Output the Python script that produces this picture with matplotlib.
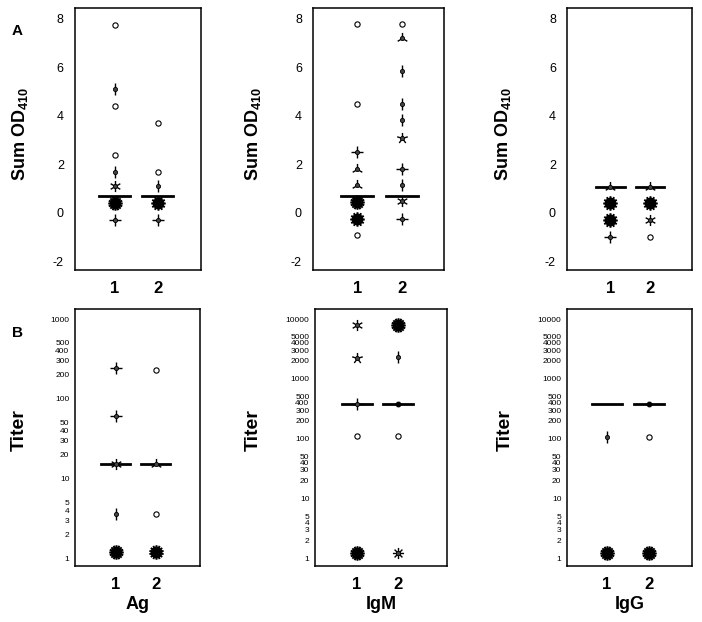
import numpy as np
import matplotlib
matplotlib.use("Agg")
import matplotlib.pyplot as plt
from matplotlib.path import Path

plt.rcParams["font.family"] = ["Liberation Sans", "DejaVu Sans"]
plt.rcParams["mathtext.fontset"] = "custom"
plt.rcParams["mathtext.rm"] = "Liberation Sans"
plt.rcParams["mathtext.bf"] = "Liberation Sans:bold"
plt.rcParams["mathtext.default"] = "bf"

groups = [1, 2]
panel_names = ["Ag", "IgM", "IgG"]

# sunflower data: values and number of observations at each value
# (1 = open circle, 0 = plain dot sitting on the median line)
ag_od_y1 = [7.75, 5.1, 4.4, 2.4, 1.7, 1.1, 0.4, -0.3]
ag_od_n1 = [1, 2, 1, 1, 2, 6, 16, 4]
ag_od_y2 = [3.7, 1.7, 1.1, 0.4, -0.3]
ag_od_n2 = [1, 1, 2, 12, 4]
igm_od_y1 = [7.8, 4.5, 2.5, 1.8, 1.15, 0.45, -0.25, -0.9]
igm_od_n1 = [1, 1, 4, 3, 3, 16, 12, 1]
igm_od_y2 = [7.8, 7.2, 5.85, 4.5, 3.85, 3.1, 1.8, 1.15, 0.5, -0.25]
igm_od_n2 = [1, 3, 2, 2, 2, 5, 4, 2, 6, 4]
igg_od_y1 = [1.05, 0.4, -0.3, -1.0]
igg_od_n1 = [3, 12, 12, 4]
igg_od_y2 = [1.05, 0.4, -0.3, -1.0]
igg_od_n2 = [3, 12, 6, 1]
od_medians = [0.7, 0.7, 1.05]

ag_ti_y1 = [240, 60, 15, 3.6, 1.2]
ag_ti_n1 = [4, 4, 6, 2, 16]
ag_ti_y2 = [230, 15, 3.6, 1.2]
ag_ti_n2 = [1, 3, 1, 14]
igm_ti_y1 = [8000, 2250, 375, 110, 1.2]
igm_ti_n1 = [6, 5, 4, 1, 16]
igm_ti_y2 = [8000, 2300, 375, 110, 1.2]
igm_ti_n2 = [16, 2, 0, 1, 8]
igg_ti_y1 = [105, 1.2]
igg_ti_n1 = [2, 16]
igg_ti_y2 = [375, 105, 1.2]
igg_ti_n2 = [0, 1, 16]
ti_medians = [15, 375, 375]

od_ticks = [-2, 0, 2, 4, 6, 8]
ti_ticks_ag = [1, 2, 3, 4, 5, 10, 20, 30, 40, 50, 100, 200, 300, 400, 500, 1000]
ti_ticks_ig = ti_ticks_ag + [2000, 3000, 4000, 5000, 10000]

od_data = [
    [(ag_od_y1, ag_od_n1), (ag_od_y2, ag_od_n2)],
    [(igm_od_y1, igm_od_n1), (igm_od_y2, igm_od_n2)],
    [(igg_od_y1, igg_od_n1), (igg_od_y2, igg_od_n2)],
]
ti_data = [
    [(ag_ti_y1, ag_ti_n1), (ag_ti_y2, ag_ti_n2)],
    [(igm_ti_y1, igm_ti_n1), (igm_ti_y2, igm_ti_n2)],
    [(igg_ti_y1, igg_ti_n1), (igg_ti_y2, igg_ti_n2)],
]


def petals(n):
    verts, codes = [], []
    for k in range(n):
        a = np.deg2rad(90 + 360.0 * k / n)
        verts += [(0, 0), (np.cos(a), np.sin(a))]
        codes += [Path.MOVETO, Path.LINETO]
    return Path(verts, codes)


def sunflower(ax, x, ys, ns):
    for y, n in zip(ys, ns):
        if n == 0:
            ax.plot(x, y, "o", ms=3.2, color="black", zorder=4)
        elif n == 1:
            ax.plot(x, y, "o", ms=3.8, mfc="white", mec="black", mew=0.8, zorder=4)
        elif n < 10:
            ax.plot(x, y, marker=petals(n), ms=8, mfc="none", mec="black", mew=1.0, ls="none", zorder=4)
            ax.plot(x, y, "o", ms=3.0, mfc="#444444", mec="black", mew=0.6, zorder=5)
        else:
            ax.plot(x, y, marker=petals(n), ms=10.5, mfc="none", mec="black", mew=1.4, ls="none", zorder=4)
            ax.plot(x, y, "o", ms=7.5, color="black", zorder=5)


fig = plt.figure(figsize=(7.02, 6.22), dpi=100)

top_pos = [[0.1068, 0.5659, 0.1795, 0.4212], [0.4459, 0.5659, 0.1866, 0.4212], [0.8077, 0.5659, 0.1781, 0.4212]]
bot_pos = [[0.1068, 0.0900, 0.1781, 0.4132], [0.4487, 0.0900, 0.1880, 0.4132], [0.8077, 0.0900, 0.1780, 0.4132]]
top_xlim = [(0.07, 3.0), (0.02, 2.93), (-0.08, 3.05)]
bot_xlim = [(-0.02, 3.1), (-0.02, 3.19), (0.05, 3.03)]
top_lab_x = [-0.36, -0.38, -0.43]
bot_lab_x = [-0.38, -0.40, -0.43]

for i in range(3):
    ax = fig.add_axes(top_pos[i])
    for g, (ys, ns) in zip(groups, od_data[i]):
        sunflower(ax, g, ys, ns)
        ax.plot([g - 0.36, g + 0.36], [od_medians[i]] * 2, color="black", lw=2.0, zorder=3)
    ax.set_xlim(*top_xlim[i])
    ax.set_ylim(-2.36, 8.45)
    ax.set_xticks(groups)
    ax.set_xticklabels(["1", "2"], fontsize=12, fontweight="bold")
    ax.set_yticks(od_ticks)
    ax.set_yticklabels([str(t) for t in od_ticks], fontsize=9)
    ax.tick_params(length=0)
    ax.tick_params(axis="y", pad=8)
    ax.tick_params(axis="x", pad=8)
    ax.set_ylabel("Sum OD$_{410}$", fontsize=13, fontweight="bold")
    ax.yaxis.set_label_coords(top_lab_x[i], 0.52)
    for s in ax.spines.values():
        s.set_linewidth(1.1)

    ax = fig.add_axes(bot_pos[i])
    for g, (ys, ns) in zip(groups, ti_data[i]):
        sunflower(ax, g, ys, ns)
        ax.plot([g - 0.36, g + 0.36], [ti_medians[i]] * 2, color="black", lw=2.0, zorder=3)
    ax.set_yscale("log")
    ax.set_xlim(*bot_xlim[i])
    if i == 0:
        ax.set_ylim(0.794, 1335)
        ticks = ti_ticks_ag
    else:
        ax.set_ylim(0.735, 14700)
        ticks = ti_ticks_ig
    ax.set_yticks(ticks)
    ax.set_yticklabels([str(t) for t in ticks], fontsize=6)
    ax.yaxis.set_minor_locator(matplotlib.ticker.NullLocator())
    ax.set_xticks(groups)
    ax.set_xticklabels(["1", "2"], fontsize=12, fontweight="bold")
    ax.tick_params(length=0)
    ax.tick_params(axis="y", pad=4)
    ax.tick_params(axis="x", pad=8)
    ax.set_ylabel("Titer", fontsize=14, fontweight="bold")
    ax.yaxis.set_label_coords(bot_lab_x[i], 0.53)
    ax.set_xlabel(panel_names[i], fontsize=13, fontweight="bold")
    ax.xaxis.set_label_coords(0.5, -0.115)
    for s in ax.spines.values():
        s.set_linewidth(1.1)

fig.text(12 / 702, 1 - 31 / 622, "A", fontsize=11, fontweight="bold", va="center")
fig.text(12 / 702, 1 - 333 / 622, "B", fontsize=11, fontweight="bold", va="center")

fig.savefig("out.png", dpi=100)
